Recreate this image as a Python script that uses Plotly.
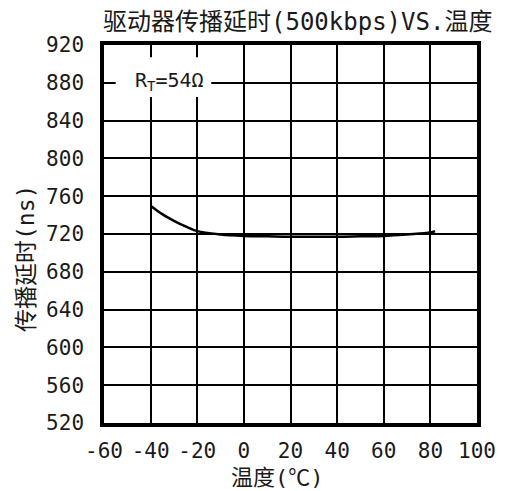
import plotly.graph_objects as go

temps = [-40, -35, -30, -25, -20, -10, 0, 10, 20, 30, 40, 50, 60, 70, 80, 82]
delay_ns = [750, 741, 734, 728, 723, 719.5, 718, 717.5, 717, 717, 717, 717.5, 718, 719.5, 721.5, 723]

x_ticks = [-60, -40, -20, 0, 20, 40, 60, 80, 100]
y_ticks = [520, 560, 600, 640, 680, 720, 760, 800, 840, 880, 920]

FONT = "DejaVu Sans Mono, Noto Sans CJK SC"
INK = "#1a1a1a"

fig = go.Figure()
fig.add_trace(go.Scatter(x=temps, y=delay_ns, mode="lines",
                         line=dict(color="black", width=2.5, shape="spline"),
                         showlegend=False, hoverinfo="skip"))

# white box behind the R_T label, hiding the grid there
fig.add_shape(type="rect", x0=-55, x1=-14, y0=865, y1=907,
              fillcolor="white", line=dict(width=0), layer="above")
fig.add_annotation(x=-32, y=882, text="R<sub>T</sub>=54Ω", showarrow=False,
                   font=dict(family=FONT, size=20, color=INK))

# title and axis titles
fig.add_annotation(xref="paper", yref="paper", x=0.52, y=1.061,
                   text="驱动器传播延时(500kbps)VS.温度", showarrow=False,
                   xanchor="center", yanchor="middle",
                   font=dict(family=FONT, size=24, color=INK))
fig.add_annotation(xref="paper", yref="paper", x=0.466, y=-0.1455,
                   text="温度(℃)", showarrow=False,
                   xanchor="center", yanchor="middle",
                   font=dict(family=FONT, size=22, color=INK))
fig.add_annotation(xref="paper", yref="paper", x=-0.209, y=0.434,
                   text="传播延时(ns)", showarrow=False, textangle=-90,
                   xanchor="center", yanchor="middle",
                   font=dict(family=FONT, size=23, color=INK))

fig.update_layout(
    width=500, height=483,
    margin=dict(l=96, r=26, t=37, b=68),
    paper_bgcolor="white", plot_bgcolor="white",
    font=dict(family=FONT, color=INK),
)
fig.update_xaxes(range=[-60, 100], tickvals=x_ticks, ticktext=[str(v) for v in x_ticks],
                 showgrid=True, gridcolor="black", gridwidth=1.5,
                 showline=True, linecolor="black", linewidth=3.5, mirror=True,
                 zeroline=False, ticks="", tickfont=dict(size=21),
                 ticklabelstandoff=6)
fig.update_yaxes(range=[520, 920], tickvals=y_ticks, ticktext=[str(v) for v in y_ticks],
                 showgrid=True, gridcolor="black", gridwidth=1.5,
                 showline=True, linecolor="black", linewidth=3.5, mirror=True,
                 zeroline=False, ticks="", tickfont=dict(size=21),
                 ticklabelstandoff=12)

fig.write_html("out.html")
